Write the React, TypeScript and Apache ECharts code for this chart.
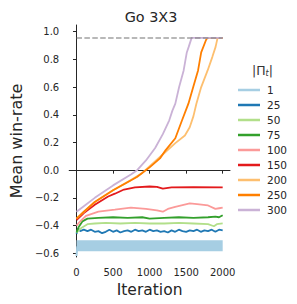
import React, { useEffect, useRef } from "react";
import * as echarts from "echarts";

const seriesNames = ["1", "25", "50", "75", "100", "150", "200", "250", "300"];
const colors = ["#a6cee3", "#1f78b4", "#b2df8a", "#33a02c", "#fb9a99", "#e31a1c", "#fdbf6f", "#ff7f00", "#cab2d6"];
const xTicks = [0, 500, 1000, 1500, 2000];
const yTicks = [-0.6, -0.4, -0.2, 0, 0.2, 0.4, 0.6, 0.8, 1.0];
const optimum = [[0, 0.955], [2000, 0.955]];

const s1Band = [[0, -0.545], [2000, -0.545]];
const s1Start = [[0, -0.62], [12, -0.55]];
const s25 = [[0, -0.46], [25, -0.42], [50, -0.44], [100, -0.43], [150, -0.44], [200, -0.43], [250, -0.445], [300, -0.44], [350, -0.455], [400, -0.445], [450, -0.43], [500, -0.445], [550, -0.435], [600, -0.45], [650, -0.44], [700, -0.435], [750, -0.445], [800, -0.43], [850, -0.44], [900, -0.435], [950, -0.445], [1000, -0.43], [1050, -0.44], [1100, -0.435], [1150, -0.445], [1200, -0.44], [1250, -0.45], [1300, -0.435], [1350, -0.445], [1400, -0.43], [1450, -0.44], [1500, -0.445], [1550, -0.435], [1600, -0.44], [1650, -0.43], [1700, -0.445], [1750, -0.435], [1800, -0.44], [1850, -0.43], [1900, -0.445], [1950, -0.43], [2000, -0.435]];
const s50 = [[0, -0.45], [60, -0.42], [150, -0.39], [250, -0.385], [400, -0.38], [600, -0.385], [800, -0.38], [1000, -0.385], [1200, -0.385], [1400, -0.38], [1600, -0.385], [1800, -0.39], [1880, -0.405], [1920, -0.39], [2000, -0.385]];
const s75 = [[0, -0.45], [30, -0.41], [80, -0.37], [150, -0.35], [300, -0.345], [500, -0.34], [700, -0.345], [900, -0.34], [1000, -0.35], [1200, -0.345], [1400, -0.34], [1600, -0.345], [1800, -0.34], [1900, -0.335], [1950, -0.34], [2000, -0.325]];
const s100 = [[0, -0.40], [50, -0.37], [130, -0.33], [300, -0.30], [525, -0.285], [744, -0.27], [950, -0.28], [1100, -0.29], [1181, -0.30], [1250, -0.28], [1350, -0.265], [1550, -0.24], [1650, -0.245], [1800, -0.255], [1900, -0.28], [1950, -0.275], [2000, -0.27]];
const s150 = [[0, -0.36], [100, -0.31], [250, -0.25], [433, -0.19], [525, -0.17], [650, -0.14], [800, -0.125], [1000, -0.118], [1100, -0.12], [1181, -0.133], [1300, -0.125], [1600, -0.122], [2000, -0.125]];
const s200 = [[0, -0.35], [250, -0.23], [500, -0.145], [750, -0.07], [900, -0.02], [1089, 0.07], [1352, 0.195], [1483, 0.25], [1549, 0.31], [1600, 0.39], [1640, 0.48], [1706, 0.60], [1794, 0.72], [1860, 0.82], [1903, 0.89], [1930, 0.955], [2000, 0.955]];
const s250 = [[0, -0.35], [100, -0.30], [250, -0.23], [500, -0.145], [827, -0.05], [1000, 0.02], [1142, 0.085], [1220, 0.145], [1352, 0.23], [1444, 0.36], [1531, 0.48], [1597, 0.60], [1663, 0.72], [1706, 0.85], [1772, 0.94], [1790, 0.955], [2000, 0.955]];
const s300 = [[0, -0.30], [100, -0.26], [250, -0.20], [500, -0.11], [750, -0.03], [830, 0.0], [950, 0.07], [1076, 0.16], [1181, 0.26], [1269, 0.36], [1312, 0.43], [1352, 0.48], [1404, 0.60], [1466, 0.72], [1509, 0.85], [1535, 0.89], [1575, 0.955], [2000, 0.955]];

const seriesData = [s25, s50, s75, s100, s150, s200, s250, s300];

const FONT = "DejaVu Sans";
const INK = "#262626";

export default function App() {
  const ref = useRef<HTMLDivElement>(null);
  useEffect(() => {
    document.body.style.margin = "0";
    const chart = echarts.init(ref.current!, null, { renderer: "svg" });
    const fmt = (v: number) => {
      const s = Math.abs(v).toFixed(1);
      return v < -1e-9 ? "\u2212" + s : s;
    };
    const lineSeries: any[] = [
      {
        name: "1", type: "line", data: s1Band, symbol: "none",
        lineStyle: { color: colors[0], width: 11, cap: "butt" }, itemStyle: { color: colors[0] },
      },
      {
        name: "1", type: "line", data: s1Start, symbol: "none",
        lineStyle: { color: colors[0], width: 2 }, itemStyle: { color: colors[0] },
      },
    ];
    seriesData.forEach((d, i) => {
      lineSeries.push({
        name: seriesNames[i + 1], type: "line", data: d, symbol: "none",
        lineStyle: { color: colors[i + 1], width: 1.8 }, itemStyle: { color: colors[i + 1] },
      });
    });
    lineSeries.push({
      name: "optimum", type: "line", data: optimum, symbol: "none", silent: true,
      lineStyle: { color: "#808080", width: 1.5, type: [5.5, 2.4], opacity: 0.75 },
    });
    chart.setOption({
      animation: false,
      textStyle: { fontFamily: FONT },
      title: {
        text: "Go 3X3", left: 146, top: 5, textAlign: "center",
        textStyle: { fontSize: 14.4, fontWeight: "normal", color: INK, fontFamily: FONT },
      },
      grid: { left: 63, right: 67, top: 25, bottom: 47 },
      legend: {
        orient: "vertical", left: 238, top: 84, padding: 0, itemWidth: 22, itemHeight: 2.5, itemGap: 3,
        textStyle: { fontSize: 10.5, color: INK, fontFamily: FONT, lineHeight: 12, padding: [0, 0, 0, 2] },
        data: seriesNames.map((n, i) => ({ name: n, icon: "rect", itemStyle: { color: colors[i] } })),
      },
      graphic: [
        {
          type: "text", left: 252, top: 64,
          style: {
            text: "|\u03A0{s|t}|", fill: "#333", fontSize: 12.5, fontFamily: FONT,
            rich: { s: { fontSize: 8, fontStyle: "italic", fill: "#333", fontFamily: FONT, padding: [5, 0, 0, 0] } },
          },
        },
      ],
      xAxis: {
        type: "value", min: -100, max: 2100, offset: 5,
        name: "Iteration", nameLocation: "middle", nameGap: 18,
        nameTextStyle: { fontSize: 15.5, color: INK, fontFamily: FONT },
        axisLine: { show: true, lineStyle: { color: INK, width: 1 } },
        axisTick: { show: true, length: 3.5, customValues: xTicks, lineStyle: { color: INK } },
        axisLabel: { customValues: xTicks, fontSize: 10, color: INK, margin: 5, fontFamily: FONT, formatter: (v: number) => String(v) },
        splitLine: { show: false },
      },
      yAxis: {
        type: "value", min: -0.627, max: 1.048, offset: 4,
        name: "Mean win-rate", nameLocation: "middle", nameGap: 37,
        nameTextStyle: { fontSize: 16, color: INK, fontFamily: FONT },
        axisLine: { show: true, lineStyle: { color: INK, width: 1 } },
        axisTick: { show: true, length: 3.5, customValues: yTicks, lineStyle: { color: INK } },
        axisLabel: { customValues: yTicks, fontSize: 10, color: INK, margin: 6, fontFamily: FONT, formatter: fmt },
        splitLine: { show: false },
      },
      series: lineSeries,
    });
    return () => chart.dispose();
  }, []);
  return <div ref={ref} style={{ width: 297, height: 304 }} />;
}
